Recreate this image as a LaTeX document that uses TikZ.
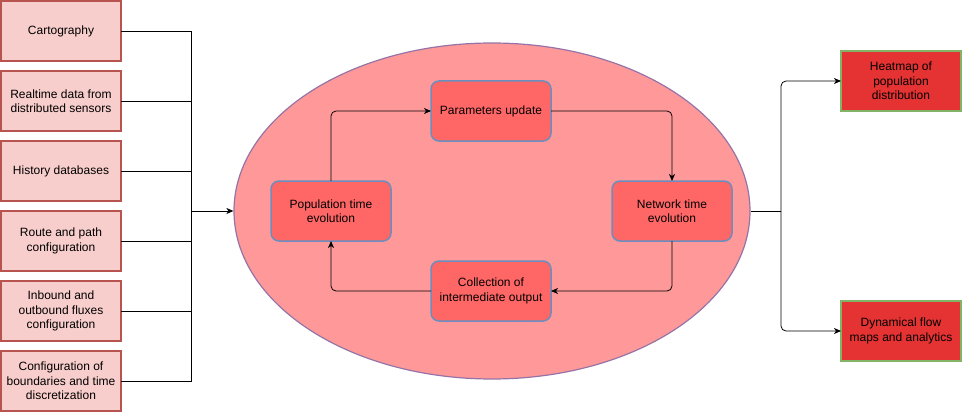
\documentclass[tikz,border=0pt]{standalone}
\usepackage{fontspec}
\setmainfont{Liberation Sans}
\usetikzlibrary{positioning}
\usetikzlibrary{arrows.meta}
\usetikzlibrary{shapes.geometric}
\definecolor{inputfill}{HTML}{F8CECC}
\definecolor{inputdraw}{HTML}{B85450}
\definecolor{loopfill}{HTML}{FF9999}
\definecolor{loopdraw}{HTML}{9673A6}
\definecolor{stepfill}{HTML}{FF6666}
\definecolor{stepdraw}{HTML}{6C8EBF}
\definecolor{outfill}{HTML}{E53232}
\definecolor{outdraw}{HTML}{82B366}

\begin{document}
\begin{tikzpicture}[x=1pt, y=-1pt,
                        font=\fontsize{12}{14.4}\selectfont,
                        box/.style={draw, line width=1.5pt, outer sep=0pt, inner sep=2pt,
                                    minimum width=120pt, minimum height=60pt, align=center},
                        input/.style={box, fill=inputfill, draw=inputdraw},
                        stepbox/.style={box, fill=stepfill, draw=stepdraw, rounded corners=8pt},
                        output/.style={box, fill=outfill, draw=outdraw},
                        link/.style={draw, line width=0.8pt},
                        flow/.style={link, -{Stealth[length=7pt, width=6pt, inset=2pt]}},
                        node distance=10pt]
            \useasboundingbox (0,0) rectangle (962,412);

            % inputs
            \node[input] (cart) at (61,31) {Cartography};
            \node[input, below=of cart] (real) {Realtime data from\\distributed sensors};
            \node[input, below=of real] (hist) {History databases};
            \node[input, below=of hist] (route) {Route and path\\configuration};
            \node[input, below=of route] (flux) {Inbound and\\outbound fluxes\\configuration};
            \node[input, below=of flux] (bound) {Configuration of\\boundaries and time\\discretization};

            % simulation loop
            \node[ellipse, draw=loopdraw, fill=loopfill, line width=1.2pt, inner sep=0pt,
                  minimum width=516pt, minimum height=336pt] (sim) at (492,211) {};
            \node[stepbox] (par) at (491,111) {Parameters update};
            \node[stepbox] (pop) at (331,211) {Population time\\evolution};
            \node[stepbox] (net) at (672,211) {Network time\\evolution};
            \node[stepbox] (col) at (491,291) {Collection of\\intermediate output};

            % outputs
            \node[output] (heat) at (901,81) {Heatmap of\\population\\distribution};
            \node[output] (maps) at (901,331) {Dynamical flow\\maps and analytics};

            \coordinate (join) at (191,211);
            \coordinate (split) at (781,211);

            \draw[link] (cart.east) -| (join);
            \draw[link] (real.east) -| (join);
            \draw[link] (hist.east) -| (join);
            \draw[link] (route.east) -| (join);
            \draw[link] (flux.east) -| (join);
            \draw[link] (bound.east) -| (join);
            \draw[flow] (join) -- (sim.west);

            \draw[flow, rounded corners=5pt] (pop.north) |- (par.west);
            \draw[flow, rounded corners=5pt] (par.east) -| (net.north);
            \draw[flow, rounded corners=5pt] (net.south) |- (col.east);
            \draw[flow, rounded corners=5pt] (col.west) -| (pop.south);

            \draw[link] (sim.east) -- (split);
            \draw[flow, rounded corners=5pt] (split) |- (heat.west);
            \draw[flow, rounded corners=5pt] (split) |- (maps.west);
        \end{tikzpicture}
\end{document}
